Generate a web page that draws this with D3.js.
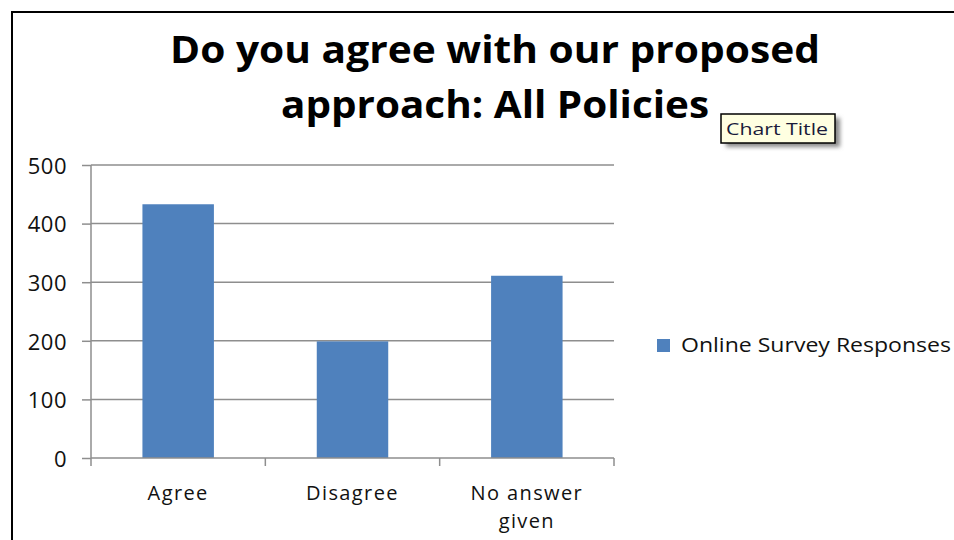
<!DOCTYPE html>
<html>
<head>
<meta charset="utf-8">
<script src="https://cdn.jsdelivr.net/npm/d3@7"></script>
<style>
  html, body { margin: 0; padding: 0; background: #fff; }
  svg { display: block; }
  text { font-family: "Open Sans", "DejaVu Sans", sans-serif; fill: #111; }
</style>
</head>
<body>
<svg id="chart" width="954" height="540"></svg>
<script>
// Survey results
const categories = ["Agree", "Disagree", "No answer given"];
const responses = [433, 199, 311];
const seriesName = "Online Survey Responses";
const yTicks = [0, 100, 200, 300, 400, 500];
const titleLines = ["Do you agree with our proposed", "approach: All Policies"];
const tooltipText = "Chart Title";

const svg = d3.select("#chart");

const plot = { left: 91, right: 614, top: 165, bottom: 458 };

const x = d3.scaleBand()
  .domain(categories)
  .range([plot.left, plot.right])
  .paddingInner(0.59)
  .paddingOuter(0.295);

const y = d3.scaleLinear()
  .domain([0, 500])
  .range([plot.bottom, plot.top]);

// Frame of the chart area
svg.append("rect")
  .attr("x", 12).attr("y", 12)
  .attr("width", 990).attr("height", 600)
  .attr("fill", "#fff")
  .attr("stroke", "#000")
  .attr("stroke-width", 2);

// Title
const title = svg.append("g");
title.selectAll("text")
  .data(titleLines)
  .join("text")
  .attr("x", 495)
  .attr("y", (d, i) => 63 + i * 55)
  .attr("text-anchor", "middle")
  .attr("font-size", 37)
  .attr("font-weight", 700)
  .attr("textLength", (d, i) => i === 0 ? 650 : 428)
  .attr("lengthAdjust", "spacingAndGlyphs")
  .style("fill", "#000")
  .text(d => d);

// Horizontal gridlines
svg.append("g")
  .selectAll("line")
  .data(yTicks.filter(d => d > 0))
  .join("line")
  .attr("x1", plot.left).attr("x2", plot.right)
  .attr("y1", d => y(d)).attr("y2", d => y(d))
  .attr("stroke", "#8e8e8e")
  .attr("stroke-width", 1.5);

// Y axis
const yAxis = svg.append("g")
  .attr("transform", `translate(${plot.left},0)`)
  .call(d3.axisLeft(y).tickValues(yTicks).tickSize(9).tickPadding(15));
yAxis.select(".domain")
  .attr("d", `M0,${plot.top}V${plot.bottom + 8}`)
  .attr("stroke", "#8e8e8e").attr("stroke-width", 1.5);
yAxis.selectAll(".tick line").attr("stroke", "#8e8e8e").attr("stroke-width", 1.5);
yAxis.selectAll(".tick text")
  .attr("font-size", 22)
  .attr("font-family", "'Open Sans', sans-serif")
  .attr("letter-spacing", 0.5)
  .attr("dy", "0.38em")
  .style("fill", "#111");

// Bars
svg.append("g")
  .selectAll("rect")
  .data(categories.map((c, i) => ({ c, v: responses[i] })))
  .join("rect")
  .attr("x", d => x(d.c))
  .attr("y", d => y(d.v))
  .attr("width", x.bandwidth())
  .attr("height", d => y(0) - y(d.v))
  .attr("fill", "#4f81bd");

// X axis baseline and category boundary ticks
const xAxis = svg.append("g");
xAxis.append("line")
  .attr("x1", plot.left).attr("x2", plot.right)
  .attr("y1", y(0)).attr("y2", y(0))
  .attr("stroke", "#8e8e8e").attr("stroke-width", 1.5);
xAxis.selectAll("line.bound")
  .data(d3.range(1, categories.length + 1))
  .join("line")
  .attr("class", "bound")
  .attr("x1", i => x.range()[0] + i * x.step())
  .attr("x2", i => x.range()[0] + i * x.step())
  .attr("y1", y(0)).attr("y2", y(0) + 8)
  .attr("stroke", "#8e8e8e").attr("stroke-width", 1.5);

// Category labels, wrapped onto two lines when long
const wrap = s => s === "No answer given" ? ["No answer", "given"] : [s];
const labels = xAxis.selectAll("text.cat")
  .data(categories)
  .join("text")
  .attr("class", "cat")
  .attr("x", d => x(d) + x.bandwidth() / 2)
  .attr("y", 500)
  .attr("text-anchor", "middle")
  .attr("font-size", 20)
  .attr("letter-spacing", 1.4);
labels.each(function (d) {
  const t = d3.select(this);
  wrap(d).forEach((line, i) => {
    t.append("tspan")
      .attr("x", x(d) + x.bandwidth() / 2)
      .attr("dy", i === 0 ? 0 : 28)
      .text(line);
  });
});

// Legend
const legend = svg.append("g");
legend.append("rect")
  .attr("x", 657).attr("y", 339)
  .attr("width", 13).attr("height", 13)
  .attr("fill", "#4f81bd");
legend.append("text")
  .attr("x", 681).attr("y", 352)
  .attr("font-size", 20)
  .attr("textLength", 270)
  .attr("lengthAdjust", "spacingAndGlyphs")
  .text(seriesName);

// Hover tip over the title
const defs = svg.append("defs");
defs.append("filter").attr("id", "tipShadow")
  .attr("x", "-20%").attr("y", "-40%").attr("width", "140%").attr("height", "180%")
  .append("feGaussianBlur").attr("stdDeviation", 2);
const tip = svg.append("g");
tip.append("rect")
  .attr("x", 726).attr("y", 118)
  .attr("width", 114).attr("height", 29)
  .attr("fill", "#8a8a8a")
  .attr("filter", "url(#tipShadow)");
tip.append("rect")
  .attr("x", 721).attr("y", 114)
  .attr("width", 114).attr("height", 29)
  .attr("fill", "#ffffe1")
  .attr("stroke", "#000")
  .attr("stroke-width", 1.5);
tip.append("text")
  .attr("x", 726).attr("y", 135)
  .attr("font-size", 17)
  .attr("textLength", 102)
  .attr("lengthAdjust", "spacingAndGlyphs")
  .style("fill", "#1a1a3a")
  .text(tooltipText);
</script>
</body>
</html>
